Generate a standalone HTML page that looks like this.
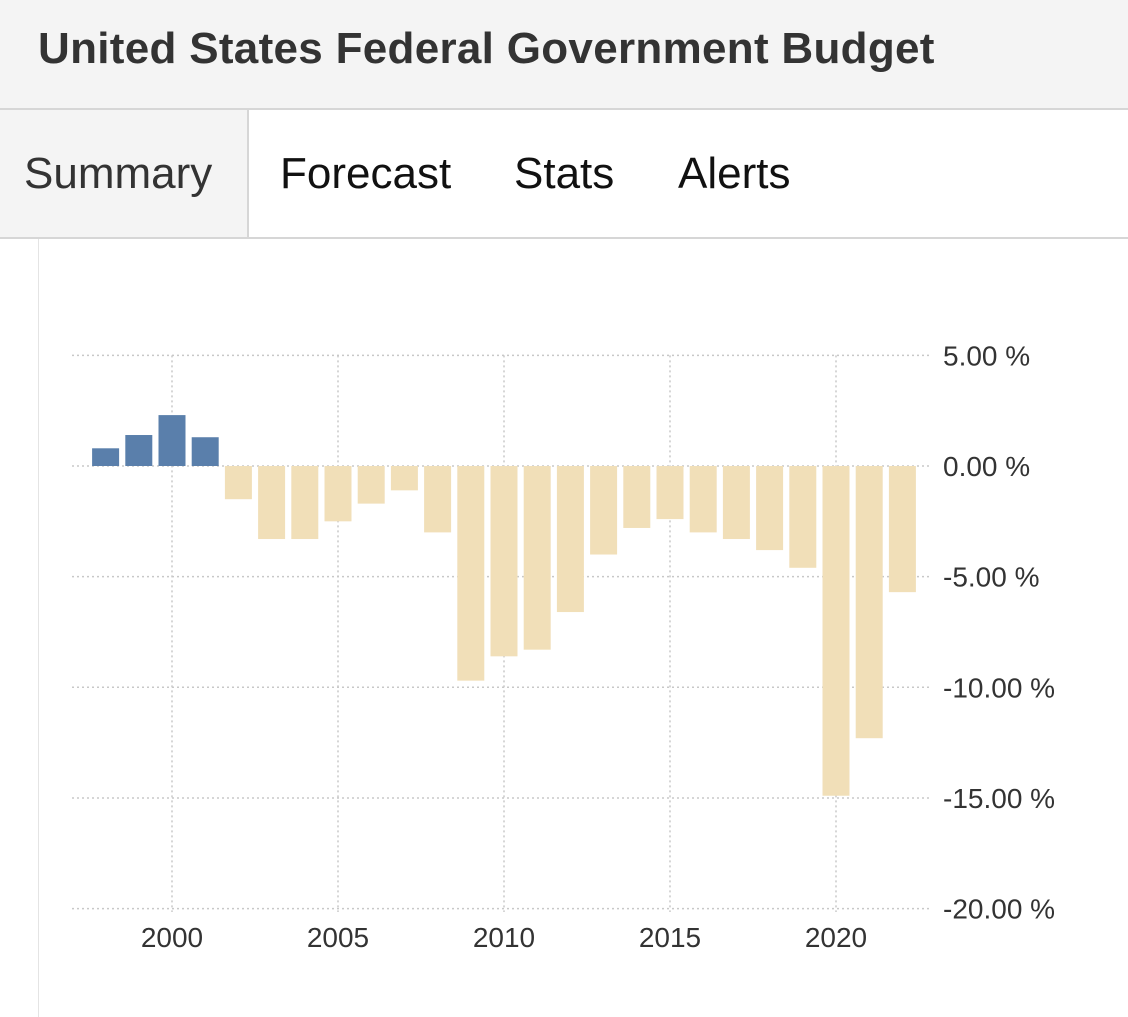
<!DOCTYPE html>
<html><head><meta charset="utf-8"><style>
body{margin:0;width:1128px;height:1017px;overflow:hidden;background:#fff;font-family:"Liberation Sans",sans-serif}
#hdr{position:absolute;left:0;top:0;width:1128px;height:108px;background:#f4f4f4;border-bottom:2px solid #d6d6d6}
#title{position:absolute;left:38px;top:24px;font-size:44px;font-weight:bold;color:#333;letter-spacing:0.3px}
#tabs{position:absolute;left:0;top:110px;width:1128px;height:127px;border-bottom:2px solid #d6d6d6}
.tab{position:absolute;top:39px;font-size:44px;color:#111}
#sum{position:absolute;left:0;top:0;width:247px;height:127px;background:#f4f4f4;border-right:2px solid #d6d6d6}
#chartbox{position:absolute;left:38px;top:239px;width:1090px;height:778px;border-left:1px solid #e4e4e4}
</style></head><body>
<div id="hdr"><div id="title">United States Federal Government Budget</div></div>
<div id="tabs">
<div id="sum"><span class="tab" style="left:24px;color:#333">Summary</span></div>
<span class="tab" style="left:280px">Forecast</span>
<span class="tab" style="left:514px">Stats</span>
<span class="tab" style="left:678px">Alerts</span>
</div>
<div id="chartbox"></div>
<svg id="chart" width="1128" height="1017" style="position:absolute;left:0;top:0"></svg>
<script>
const years=[1998,1999,2000,2001,2002,2003,2004,2005,2006,2007,2008,2009,2010,2011,2012,2013,2014,2015,2016,2017,2018,2019,2020,2021,2022];
const values=[0.8,1.4,2.3,1.3,-1.5,-3.3,-3.3,-2.5,-1.7,-1.1,-3.0,-9.7,-8.6,-8.3,-6.6,-4.0,-2.8,-2.4,-3.0,-3.3,-3.8,-4.6,-14.9,-12.3,-5.7];
const yTicks=[5,0,-5,-10,-15,-20];
const yTickLabels=["5.00 %","0.00 %","-5.00 %","-10.00 %","-15.00 %","-20.00 %"];
const xTicks=[2000,2005,2010,2015,2020];
const NS="http://www.w3.org/2000/svg";
const svg=document.getElementById('chart');
const y=v=>466-v*22.13;
const x=yr=>172+(yr-2000)*33.2;
function mk(t,a){const e=document.createElementNS(NS,t);for(const k in a)e.setAttribute(k,a[k]);svg.appendChild(e);return e;}
yTicks.forEach((t,i)=>{
 const l=mk('line',{x1:72,x2:930,y1:y(t),y2:y(t),stroke:'#c8c8c8','stroke-width':1.5,'stroke-dasharray':'2,3'});
 
 
 const tx=mk('text',{x:943,y:y(t)+10,'font-size':28,fill:'#333','font-family':'Liberation Sans, sans-serif'});
 tx.textContent=yTickLabels[i];
 
 
});
xTicks.forEach(t=>{
 const l=mk('line',{x1:x(t),x2:x(t),y1:y(5),y2:912,stroke:'#c8c8c8','stroke-width':1.5,'stroke-dasharray':'2,3'});
 
 
 const tx=mk('text',{x:x(t),y:947,'font-size':28,fill:'#333','text-anchor':'middle','font-family':'Liberation Sans, sans-serif'});
 tx.textContent=t;
 
 
});
years.forEach((yr,i)=>{
 const v=values[i];
 const r=mk('rect',{x:x(yr)-13.5,width:27,y:Math.min(y(v),y(0)),height:Math.abs(y(v)-y(0)),fill:v>=0?'#5a7fab':'#f1dfb8'});
 
 
});
</script>
</body></html>
